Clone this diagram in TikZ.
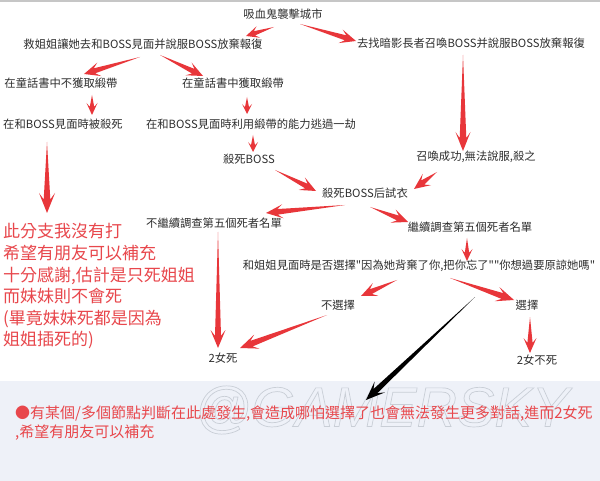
\documentclass[tikz,border=0pt]{standalone}
\usepackage{fontspec}
\usetikzlibrary{calc}
\newfontfamily\cjk{Noto Sans CJK TC}
\newfontfamily\wmfont{Liberation Sans}
\definecolor{arrred}{HTML}{E8363A}
\definecolor{txtgray}{HTML}{2E2E2E}
\definecolor{notered}{HTML}{E8474C}
\definecolor{bandbg}{HTML}{EEF1F8}
\definecolor{wmgray}{HTML}{C9CED6}
% tapered arrow: #1 colour, #2 head length, #3 head half width, #4 shaft half width, #5 from, #6 to
\newcommand\tarrow[6]{%
  \pgfmathsetmacro\tarrN{0.68*#2}%
  \coordinate (tH) at ($(#6)!#2pt!(#5)$);
  \coordinate (tN) at ($(#6)!\tarrN pt!(#5)$);
  \fill[#1] (#5) -- ($(tN)!#4pt!90:(#6)$) -- ($(tH)!#3pt!90:(#6)$) -- (#6)
     -- ($(tH)!#3pt!-90:(#6)$) -- ($(tN)!#4pt!-90:(#6)$) -- cycle;
}
\begin{document}
\begin{tikzpicture}[x=1pt,y=-1pt,
  lbl/.style={font=\cjk\fontsize{11.3}{13}\selectfont, text=txtgray, inner sep=0pt},
  redline/.style={font=\cjk\fontsize{17}{20}\selectfont, text=notered, inner sep=0pt, anchor=base west},
  noteline/.style={font=\cjk\fontsize{15}{18}\selectfont, text=notered, inner sep=0pt, anchor=base west},
]
\useasboundingbox (0,0) rectangle (600,481);
\fill[white] (0,0) rectangle (600,481);
\fill[bandbg] (0,381) rectangle (600,481);
\fill[gray!45] (0,0) rectangle (600,2);

% watermark
\node[inner sep=0pt, text=wmgray, font=\wmfont\itshape\fontsize{56}{60}\selectfont] (wm) at (382,410)
  {\special{pdf:literal direct 1 Tr 0.7 w}@GAMERSKY\special{pdf:literal direct 0 Tr}};

% labels
\node[lbl] (t0) at (283,14) {吸血鬼襲擊城市};
\node[lbl] (l1) at (143,44) {救姐姐讓她去和BOSS見面并說服BOSS放棄報復};
\node[lbl] (r1) at (471,43) {去找暗影長者召喚BOSS并說服BOSS放棄報復};
\node[lbl] (l2a) at (61,83) {在童話書中不獲取緞帶};
\node[lbl] (l2b) at (233,83) {在童話書中獲取緞帶};
\node[lbl] (l3a) at (63,124) {在和BOSS見面時被殺死};
\node[lbl] (l3b) at (251,124) {在和BOSS見面時利用緞帶的能力逃過一劫};
\node[lbl] (kb) at (249,159) {殺死BOSS};
\node[lbl] (r2) at (476,157) {召喚成功,無法說服,殺之};
\node[lbl] (ks) at (365,193) {殺死BOSS后試衣};
\node[lbl] (nc) at (214,223) {不繼續調查第五個死者名單};
\node[lbl] (c) at (470,227) {繼續調查第五個死者名單};
\node[lbl] (q) at (419,266) {和姐姐見面時是否選擇"因為她背棄了你,把你忘了""你想過要原諒她嗎"};
\node[lbl] (ns) at (338,305) {不選擇};
\node[lbl] (s) at (527,305) {選擇};
\node[lbl] (d) at (223,358) {2女死};
\node[lbl] (nd) at (537,360) {2女不死};

% red comment block
\node[redline] (rb1) at (3,238) {此分支我沒有打};
\node[redline] (rb2) at (3,259.5) {希望有朋友可以補充};
\node[redline] (rb3) at (3,281) {十分感謝,估計是只死姐姐};
\node[redline] (rb4) at (3,302.5) {而妹妹則不會死};
\node[redline] (rb5) at (3,324) {(畢竟妹妹死都是因為};
\node[redline] (rb6) at (3,345.5) {姐姐插死的)};

% bottom note
\node[noteline] (nb1) at (15,418.5) {●有某個/多個節點判斷在此處發生,會造成哪怕選擇了也會無法發生更多對話,進而2女死};
\node[noteline] (nb2) at (15,437) {,希望有朋友可以補充};

% arrow end points
\coordinate (a1s) at (274,27);  \coordinate (a1e) at (246,36);
\coordinate (a2s) at (300,24);  \coordinate (a2e) at (356,41);
\coordinate (a3s) at (140,57);  \coordinate (a3e) at (84,74);
\coordinate (a4s) at (160,55);  \coordinate (a4e) at (203,76);
\coordinate (a5s) at (92,95);   \coordinate (a5e) at (92,115);
\coordinate (a6s) at (247,97);  \coordinate (a6e) at (247,114);
\coordinate (a7s) at (47,142);  \coordinate (a7e) at (47,213);
\coordinate (a8s) at (253,135); \coordinate (a8e) at (253,152);
\coordinate (a9s) at (463,55);  \coordinate (a9e) at (463,151);
\coordinate (a10s) at (275,170); \coordinate (a10e) at (316,191);
\coordinate (a11s) at (437,172); \coordinate (a11e) at (414,189);
\coordinate (a12s) at (345,205); \coordinate (a12e) at (266,213);
\coordinate (a13s) at (370,207); \coordinate (a13e) at (408,222);
\coordinate (a14s) at (467,238); \coordinate (a14e) at (467,261);
\coordinate (a15s) at (397,280); \coordinate (a15e) at (361,296);
\coordinate (a16s) at (450,278); \coordinate (a16e) at (514,300);
\coordinate (a17s) at (327,315); \coordinate (a17e) at (240,348);
\coordinate (a18s) at (218,232); \coordinate (a18e) at (218,348);
\coordinate (a19s) at (530,317); \coordinate (a19e) at (530,353);
\coordinate (a20s) at (475,297); \coordinate (a20e) at (366,400);

\tarrow{arrred}{13}{6}{2.2}{a1s}{a1e}
\tarrow{arrred}{16}{7}{2.6}{a2s}{a2e}
\tarrow{arrred}{16}{7}{2.6}{a3s}{a3e}
\tarrow{arrred}{16}{7}{2.6}{a4s}{a4e}
\tarrow{arrred}{12}{5.5}{2.2}{a5s}{a5e}
\tarrow{arrred}{10}{5}{2}{a6s}{a6e}
\tarrow{arrred}{20}{8}{3.3}{a7s}{a7e}
\tarrow{arrred}{10}{5}{2}{a8s}{a8e}
\tarrow{arrred}{19}{7.5}{3.3}{a9s}{a9e}
\tarrow{arrred}{16}{7}{2.6}{a10s}{a10e}
\tarrow{arrred}{16}{7}{2.6}{a11s}{a11e}
\tarrow{arrred}{17}{7}{2.8}{a12s}{a12e}
\tarrow{arrred}{16}{7}{2.6}{a13s}{a13e}
\tarrow{arrred}{12}{5.5}{2.2}{a14s}{a14e}
\tarrow{arrred}{16}{7}{2.6}{a15s}{a15e}
\tarrow{arrred}{18}{7.5}{3}{a16s}{a16e}
\tarrow{arrred}{18}{7.5}{3}{a17s}{a17e}
\tarrow{arrred}{18}{7.5}{3}{a18s}{a18e}
\tarrow{arrred}{15}{6.5}{2.6}{a19s}{a19e}
\tarrow{black}{19}{7.5}{2.8}{a20s}{a20e}
\end{tikzpicture}
\end{document}
